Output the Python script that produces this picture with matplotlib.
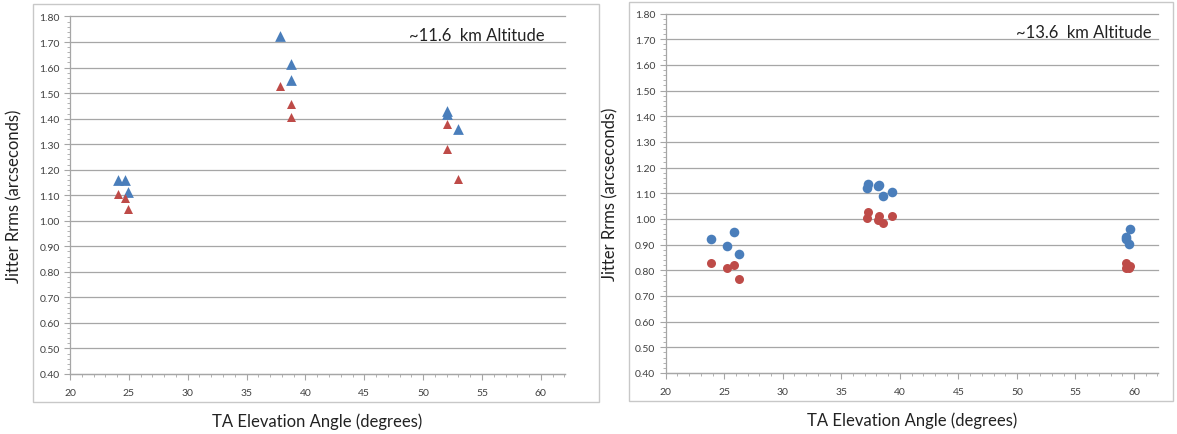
import matplotlib
matplotlib.use("Agg")
import matplotlib.pyplot as plt
from matplotlib.patches import Rectangle
from matplotlib.ticker import MultipleLocator

# ~11.6 km altitude (triangles)
alt1_x_blue = [24.1, 24.7, 24.9, 37.8, 38.8, 38.8, 52.0, 52.05, 53.0]
alt1_y_blue = [1.158, 1.158, 1.113, 1.722, 1.613, 1.551, 1.430, 1.418, 1.361]
alt1_x_red = [24.1, 24.7, 24.9, 37.8, 38.8, 38.8, 52.0, 52.0, 53.0]
alt1_y_red = [1.103, 1.089, 1.047, 1.528, 1.456, 1.408, 1.379, 1.280, 1.165]

# ~13.6 km altitude (circles)
alt2_x_blue = [23.9, 25.2, 25.8, 26.3, 37.2, 37.3, 38.1, 38.2, 38.6, 39.3, 59.3, 59.3, 59.7, 59.6]
alt2_y_blue = [0.922, 0.894, 0.951, 0.864, 1.119, 1.135, 1.127, 1.134, 1.089, 1.104, 0.929, 0.920, 0.960, 0.901]
alt2_x_red = [23.9, 25.2, 25.8, 26.3, 37.2, 37.3, 38.1, 38.2, 38.6, 39.3, 59.3, 59.3, 59.6, 59.7]
alt2_y_red = [0.827, 0.807, 0.821, 0.768, 1.004, 1.026, 0.997, 1.012, 0.984, 1.012, 0.829, 0.808, 0.808, 0.816]

BLUE = "#4a7ebb"
RED = "#be4b48"
GRID = "#a6a6a6"
TXT = "#404040"

plt.rcParams['font.family'] = ['Lato', 'DejaVu Sans']

W, H = 1177, 435
fig = plt.figure(figsize=(W / 100, H / 100), dpi=100)

def px_rect(x0, y0, x1, y1):
    return [x0 / W, 1 - y1 / H, (x1 - x0) / W, (y1 - y0) / H]

# outer chart borders
for (x0, y0, x1, y1) in [(33, 5, 599, 403), (629, 3, 1173, 402)]:
    fig.patches.append(Rectangle((x0 / W, 1 - y1 / H), (x1 - x0) / W, (y1 - y0) / H,
                                 transform=fig.transFigure, fill=False,
                                 edgecolor="#c8c8c8", linewidth=1))

def style(ax, title, tx):
    ax.set_xlim(20, 62.05)
    ax.set_ylim(0.40, 1.80)
    ax.xaxis.set_major_locator(MultipleLocator(5))
    ax.xaxis.set_minor_locator(MultipleLocator(1))
    ax.yaxis.set_major_locator(MultipleLocator(0.1))
    ax.yaxis.set_minor_locator(MultipleLocator(0.02))
    ax.yaxis.set_major_formatter(matplotlib.ticker.FormatStrFormatter("%.2f"))
    ax.grid(axis="y", which="major", color=GRID, linewidth=0.9)
    for line in ax.get_ygridlines():
        line.set_clip_on(False)
    ax.set_axisbelow(True)
    for s in ["top", "right"]:
        ax.spines[s].set_visible(False)
    for s in ["left", "bottom"]:
        ax.spines[s].set_color(GRID)
        ax.spines[s].set_linewidth(0.9)
    ax.tick_params(which="both", colors=GRID, labelcolor=TXT, labelsize=7.5)
    ax.tick_params(which="major", length=4)
    ax.tick_params(which="minor", length=2.5)
    ax.tick_params(axis="x", pad=6)
    ax.set_xlabel("TA Elevation Angle (degrees)", fontsize=12, color="#222222", labelpad=11)
    ax.set_ylabel("Jitter Rrms (arcseconds)", fontsize=12, color="#222222", labelpad=12)
    ax.text(tx, 0.949, title, transform=ax.transAxes, ha="right", va="center",
            fontsize=12, color="#222222")

ax1 = fig.add_axes(px_rect(70, 17.5, 565, 375))
ax1.scatter(alt1_x_blue, alt1_y_blue, marker="^", s=60, color=BLUE, linewidths=0, zorder=3)
ax1.scatter(alt1_x_red, alt1_y_red, marker="^", s=42, color=RED, linewidths=0, zorder=3)
style(ax1, "~11.6  km Altitude", 0.958)

ax2 = fig.add_axes(px_rect(665.7, 14.5, 1158, 374))
ax2.scatter(alt2_x_blue, alt2_y_blue, marker="o", s=48, color=BLUE, linewidths=0, zorder=3)
ax2.scatter(alt2_x_red, alt2_y_red, marker="o", s=42, color=RED, linewidths=0, zorder=3)
style(ax2, "~13.6  km Altitude", 0.987)

fig.savefig("out.png", dpi=100)
